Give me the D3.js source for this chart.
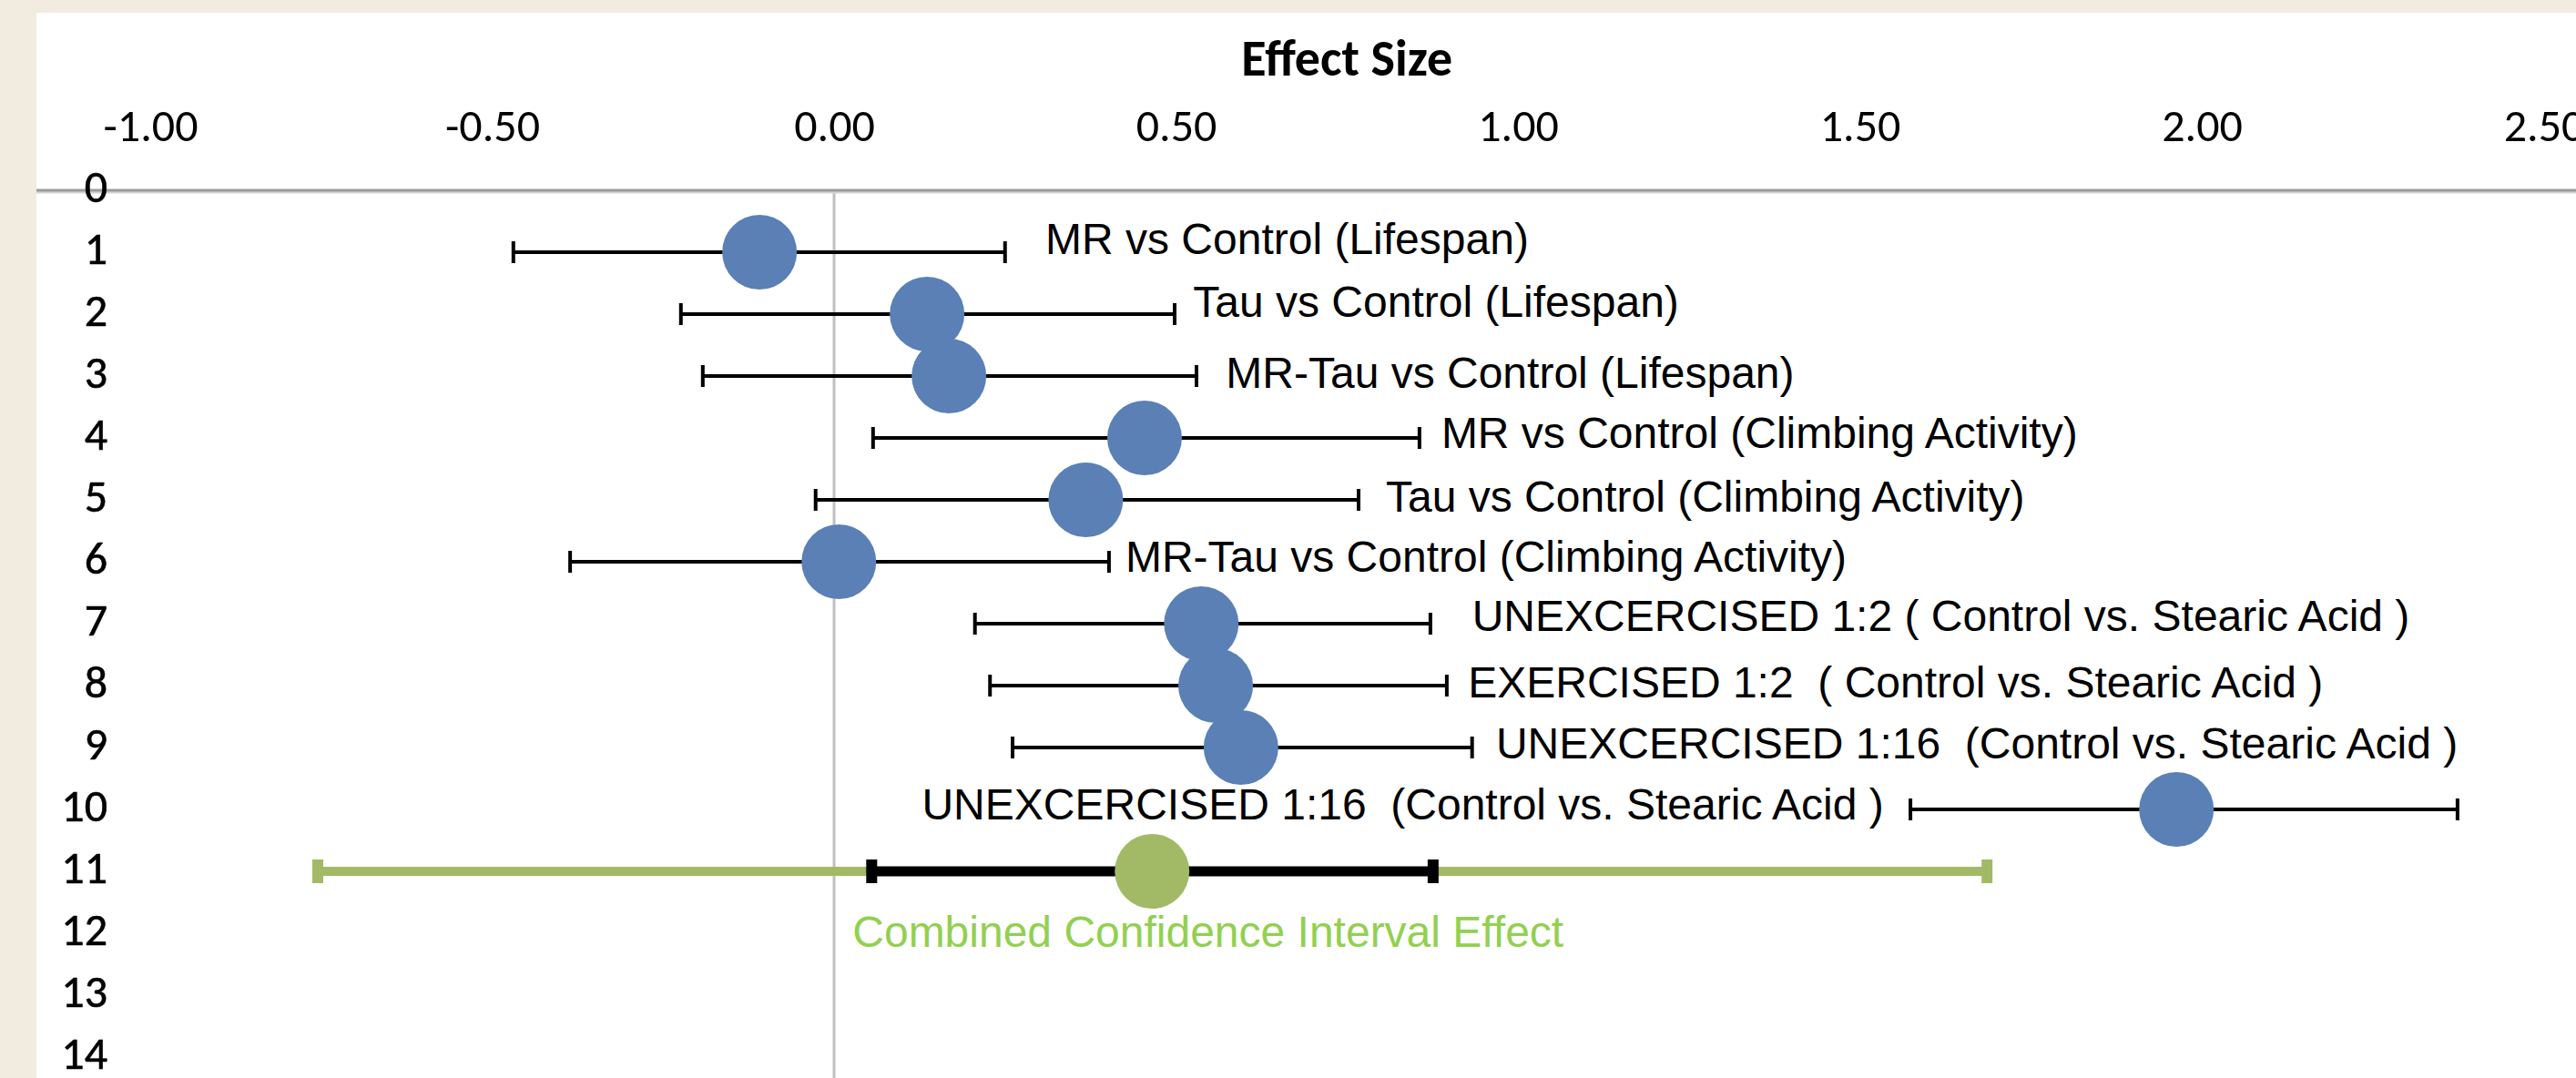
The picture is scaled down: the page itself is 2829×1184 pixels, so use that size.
<!DOCTYPE html>
<html>
<head>
<meta charset="utf-8">
<script src="https://cdn.jsdelivr.net/npm/d3@7"></script>
<style>
  html, body { margin: 0; padding: 0; background: #f2ebe0; }
  svg { display: block; }
  .tick-num { font-family: Carlito, Calibri, "Liberation Sans Narrow", "Open Sans", sans-serif; font-size: 50px; fill: #000; }
  .lbl { font-family: "Liberation Sans", Arial, sans-serif; font-size: 48px; fill: #000; white-space: pre; }
</style>
</head>
<body>
<script>
// forest plot: effect sizes with confidence intervals
var xTicks = [-1.0, -0.5, 0.0, 0.5, 1.0, 1.5, 2.0, 2.5];
var yTicks = d3.range(0, 15);

var rows = [1, 2, 3, 4, 5, 6, 7, 8, 9, 10];
var effect = [-0.109, 0.136, 0.168, 0.454, 0.368, 0.007, 0.537, 0.558, 0.595, 1.963];
var lower = [-0.469, -0.224, -0.192, 0.057, -0.027, -0.386, 0.206, 0.228, 0.261, 1.574];
var upper = [0.250, 0.498, 0.530, 0.856, 0.767, 0.402, 0.872, 0.896, 0.933, 2.374];

var labels = [
    "MR vs Control (Lifespan)",
    "Tau vs Control (Lifespan)",
    "MR-Tau vs Control (Lifespan)",
    "MR vs Control (Climbing Activity)",
    "Tau vs Control (Climbing Activity)",
    "MR-Tau vs Control (Climbing Activity)",
    "UNEXCERCISED 1:2 ( Control vs. Stearic Acid )",
    "EXERCISED 1:2  ( Control vs. Stearic Acid )",
    "UNEXCERCISED 1:16  (Control vs. Stearic Acid )",
    "UNEXCERCISED 1:16  (Control vs. Stearic Acid )"
];
// where each label sits, in effect-size / row units
var labelAtX = [0.309, 0.525, 0.573, 0.888, 0.807, 0.426, 0.933, 0.927, 0.968, 1.535];
var labelAtRow = [1.03, 2.04, 3.19, 4.16, 5.19, 6.16, 7.12, 8.19, 9.18, 10.16];

var combinedRow = 11;
var combinedEffect = 0.465;
var combinedCI = [0.055, 0.876];
var combinedPI = [-0.755, 1.686];
var combinedLabel = "Combined Confidence Interval Effect";
var combinedLabelAt = [0.027, 12.22];

var W = 2829, H = 1184;

var svg = d3.select("body").append("svg")
    .attr("width", W)
    .attr("height", H);

svg.append("rect")
    .attr("x", 40).attr("y", 14)
    .attr("width", W - 40).attr("height", H - 14)
    .attr("fill", "#ffffff");

var x = d3.scaleLinear().domain([-1, 2.5]).range([165, 165 + 3.5 * 751]);
var y = d3.scaleLinear().domain([0, 14]).range([209, 209 + 14 * 68]);

// zero reference line
svg.append("line")
    .attr("x1", x(0)).attr("x2", x(0))
    .attr("y1", y(0)).attr("y2", H)
    .attr("stroke", "#c0c0c0")
    .attr("stroke-width", 3);

// horizontal axis line at row 0
svg.append("line")
    .attr("x1", 40).attr("x2", W)
    .attr("y1", y(0) + 2).attr("y2", y(0) + 2)
    .attr("stroke", "#d4d4d4")
    .attr("stroke-width", 3);
svg.append("line")
    .attr("x1", 40).attr("x2", W)
    .attr("y1", y(0)).attr("y2", y(0))
    .attr("stroke", "#9c9c9c")
    .attr("stroke-width", 3);

// top axis
var xAxis = d3.axisTop(x)
    .tickValues(xTicks)
    .tickSize(0)
    .tickPadding(54)
    .tickFormat(function (d) { return d.toFixed(2); });
var gx = svg.append("g").attr("transform", "translate(0," + y(0) + ")").call(xAxis);
gx.select(".domain").remove();
gx.selectAll("text").attr("class", "tick-num").attr("dy", "0em");

// left axis (row numbers)
var yAxis = d3.axisLeft(y)
    .tickValues(yTicks)
    .tickSize(0)
    .tickPadding(0);
var gy = svg.append("g").attr("transform", "translate(118,0)").call(yAxis);
gy.select(".domain").remove();
gy.selectAll("text").attr("class", "tick-num")
    .attr("stroke", "#000")
    .attr("stroke-width", 0.6)
    .attr("dy", "12px");

// axis title
svg.append("text")
    .attr("x", x(0.75))
    .attr("y", 83)
    .attr("text-anchor", "middle")
    .style("font-family", "Carlito, Calibri, 'Liberation Sans Narrow', 'Open Sans', sans-serif")
    .style("font-weight", "bold")
    .style("font-size", "56px")
    .text("Effect Size");

var data = rows.map(function (r, i) {
    return { row: r, est: effect[i], lo: lower[i], hi: upper[i] };
});

// whiskers
var whisk = svg.append("g").attr("stroke", "#000");
whisk.selectAll("line.bar").data(data).enter().append("line")
    .attr("class", "bar")
    .attr("x1", function (d) { return x(d.lo); })
    .attr("x2", function (d) { return x(d.hi); })
    .attr("y1", function (d) { return y(d.row); })
    .attr("y2", function (d) { return y(d.row); })
    .attr("stroke-width", 4);
whisk.selectAll("line.capL").data(data).enter().append("line")
    .attr("class", "capL")
    .attr("x1", function (d) { return x(d.lo); })
    .attr("x2", function (d) { return x(d.lo); })
    .attr("y1", function (d) { return y(d.row) - 12; })
    .attr("y2", function (d) { return y(d.row) + 12; })
    .attr("stroke-width", 4);
whisk.selectAll("line.capR").data(data).enter().append("line")
    .attr("class", "capR")
    .attr("x1", function (d) { return x(d.hi); })
    .attr("x2", function (d) { return x(d.hi); })
    .attr("y1", function (d) { return y(d.row) - 12; })
    .attr("y2", function (d) { return y(d.row) + 12; })
    .attr("stroke-width", 4);

// combined interval: green (wide) then black (CI)
function band(range, color, width) {
    var g = svg.append("g").attr("stroke", color);
    g.append("line")
        .attr("x1", x(range[0])).attr("x2", x(range[1]))
        .attr("y1", y(combinedRow)).attr("y2", y(combinedRow))
        .attr("stroke-width", width);
    range.forEach(function (v) {
        g.append("line")
            .attr("x1", x(v)).attr("x2", x(v))
            .attr("y1", y(combinedRow) - 13).attr("y2", y(combinedRow) + 13)
            .attr("stroke-width", 12);
    });
}
band(combinedPI, "#a2ba66", 10);
band(combinedCI, "#000000", 11);

// points
svg.append("g").selectAll("circle").data(data).enter().append("circle")
    .attr("cx", function (d) { return x(d.est); })
    .attr("cy", function (d) { return y(d.row); })
    .attr("r", 41)
    .attr("fill", "#5a80b6");

svg.append("circle")
    .attr("cx", x(combinedEffect))
    .attr("cy", y(combinedRow))
    .attr("r", 41)
    .attr("fill", "#a2ba66");

// labels
svg.append("g").selectAll("text").data(labels).enter().append("text")
    .attr("class", "lbl")
    .attr("x", function (d, i) { return x(labelAtX[i]); })
    .attr("y", function (d, i) { return y(labelAtRow[i]); })
    .attr("text-anchor", function (d, i) { return i === 9 ? "end" : "start"; })
    .text(function (d) { return d; });

svg.append("text")
    .attr("class", "lbl")
    .attr("x", x(combinedLabelAt[0]))
    .attr("y", y(combinedLabelAt[1]))
    .style("fill", "#92d050")
    .text(combinedLabel);
</script>
</body>
</html>
